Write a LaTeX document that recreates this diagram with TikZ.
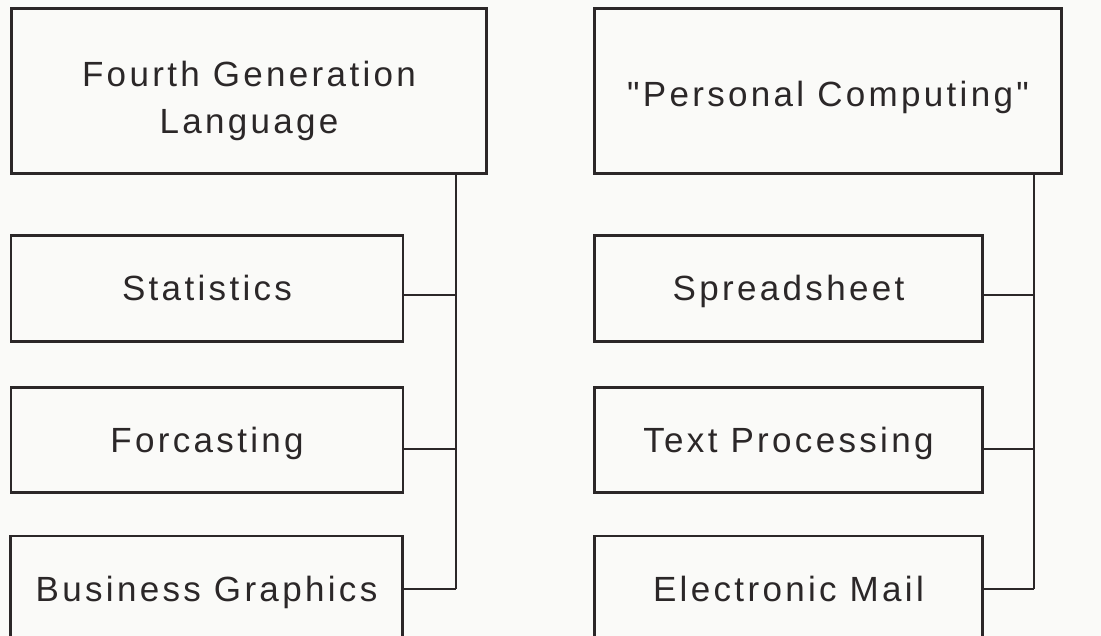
\documentclass[tikz,border=0pt]{standalone}
\usepackage{fontspec}
\setmainfont{Liberation Sans}[LetterSpace=9.5, Ligatures=TeXOff]
\definecolor{ink}{RGB}{43,39,40}
\definecolor{bg}{RGB}{250,250,248}
\begin{document}
\begin{tikzpicture}[x=1pt,y=-1pt,
  box/.style={draw=ink, text=ink, line width=2.8pt, rectangle, align=center,
    font=\fontsize{35}{47}\selectfont, inner sep=0pt, text height=25pt, text depth=0pt},
  lbl/.style={text=ink, align=center, font=\fontsize{35}{47}\selectfont, inner sep=0pt},
  conn/.style={draw=ink, line width=2.6pt}]
\useasboundingbox[fill=bg] (0,0) rectangle (1101,636);
% left column
\node[box, text height=, text depth=, minimum width=475pt, minimum height=165pt,
  label={[lbl, yshift=-10pt]center:Fourth Generation\\Language}] (fgl) at (249,91) {};
\node[box, minimum width=392pt, minimum height=106pt] (stat) at (207,288.5) {Statistics};
\node[box, minimum width=392pt, minimum height=105pt] (fore) at (207,440) {Forcasting};
\node[box, minimum width=392pt, minimum height=106pt] (bgr) at (206.5,589) {Business Graphics};
\coordinate (l1) at (456,295);
\coordinate (l2) at (456,449);
\coordinate (l3) at (456,589);
\draw[conn] (fgl.south -| l1) -- (l3);
\draw[conn] (l1 -| stat.east) -- (l1);
\draw[conn] (l2 -| fore.east) -- (l2);
\draw[conn] (l3 -| bgr.east) -- (l3);
% right column
\node[box, text height=32pt, minimum width=467pt, minimum height=165pt] (pc) at (828,91) {"Personal Computing"};
\node[box, minimum width=388pt, minimum height=106pt] (spr) at (788.5,288.5) {Spreadsheet};
\node[box, minimum width=388pt, minimum height=105pt] (txt) at (788.5,440) {Text Processing};
\node[box, minimum width=388pt, minimum height=106pt] (mail) at (788.5,589) {Electronic Mail};
\coordinate (r1) at (1034,295);
\coordinate (r2) at (1034,449);
\coordinate (r3) at (1034,589);
\draw[conn] (pc.south -| r1) -- (r3);
\draw[conn] (r1 -| spr.east) -- (r1);
\draw[conn] (r2 -| txt.east) -- (r2);
\draw[conn] (r3 -| mail.east) -- (r3);
\end{tikzpicture}
\end{document}
